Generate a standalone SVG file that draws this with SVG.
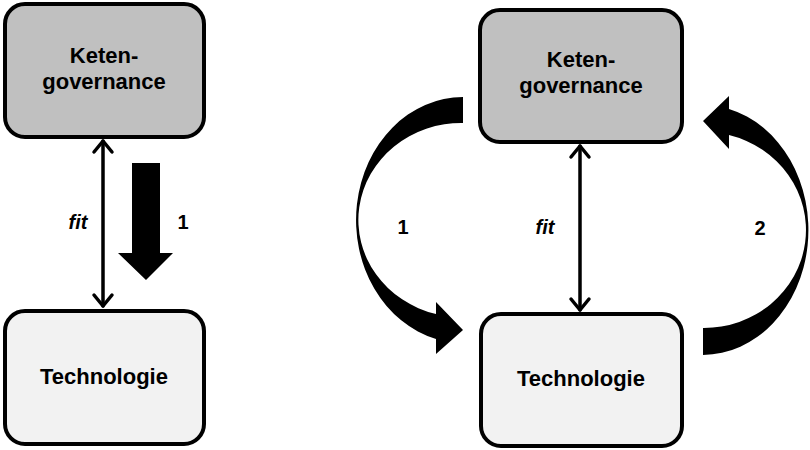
<svg xmlns="http://www.w3.org/2000/svg" width="810" height="450" viewBox="0 0 810 450">
<style>
.box{stroke:#000;stroke-width:4}
.gov{fill:#c0c0c0}
.tech{fill:#f2f2f2}
.lbl{font-family:"Liberation Sans",Arial,sans-serif;font-weight:bold;font-size:22px;fill:#000;text-anchor:middle}
.num{font-family:"Liberation Sans",Arial,sans-serif;font-weight:bold;font-size:20px;fill:#000;text-anchor:middle}
.fit{font-style:italic}
.line{fill:none;stroke:#000;stroke-width:3.5;stroke-linecap:round;stroke-linejoin:round}
.solid{fill:#000;stroke:none}
</style>
<rect width="810" height="450" fill="#fff"/>
<g id="left-governance">
<rect class="box gov" x="5" y="4" width="199" height="133" rx="20"/>
<text class="lbl" x="104" y="63">Keten-</text>
<text class="lbl" x="104" y="89">governance</text>
</g>
<g id="left-technologie">
<rect class="box tech" x="5" y="311" width="199" height="133" rx="20"/>
<text class="lbl" x="104" y="384">Technologie</text>
</g>
<g id="right-governance">
<rect class="box gov" x="480" y="10" width="202" height="132" rx="20"/>
<text class="lbl" x="581" y="67">Keten-</text>
<text class="lbl" x="581" y="93">governance</text>
</g>
<g id="right-technologie">
<rect class="box tech" x="481" y="314" width="201" height="132" rx="20"/>
<text class="lbl" x="581" y="386">Technologie</text>
</g>
<g id="connectors">
<line class="line" x1="103" y1="141" x2="103" y2="306"/>
<polyline class="line" points="94,152 103,141 112,152"/>
<polyline class="line" points="94,295 103,306 112,295"/>
<path class="solid" d="M132 163 H160 V253 H173 L146 280 L118 253 H132 Z"/>
<line class="line" x1="580" y1="146" x2="580" y2="310"/>
<polyline class="line" points="571,157 580,146 589,157"/>
<polyline class="line" points="571,299 580,310 589,299"/>
<path class="solid" d="M463 97 A107 123 0 0 0 436 339 L436 354 L463 330 L436 302 L436 314 A103 97 0 0 1 463 123 Z"/>
<path class="solid" d="M703 355 A106 125 0 0 0 729 109 L729 96 L703 121 L729 149 L729 135 A102 98 0 0 1 703 328 Z"/>
</g>
<g id="labels">
<text class="num fit" x="78" y="229">fit</text>
<text class="num" x="183" y="229">1</text>
<text class="num fit" x="545" y="234">fit</text>
<text class="num" x="403" y="234">1</text>
<text class="num" x="760" y="235">2</text>
</g>
</svg>
